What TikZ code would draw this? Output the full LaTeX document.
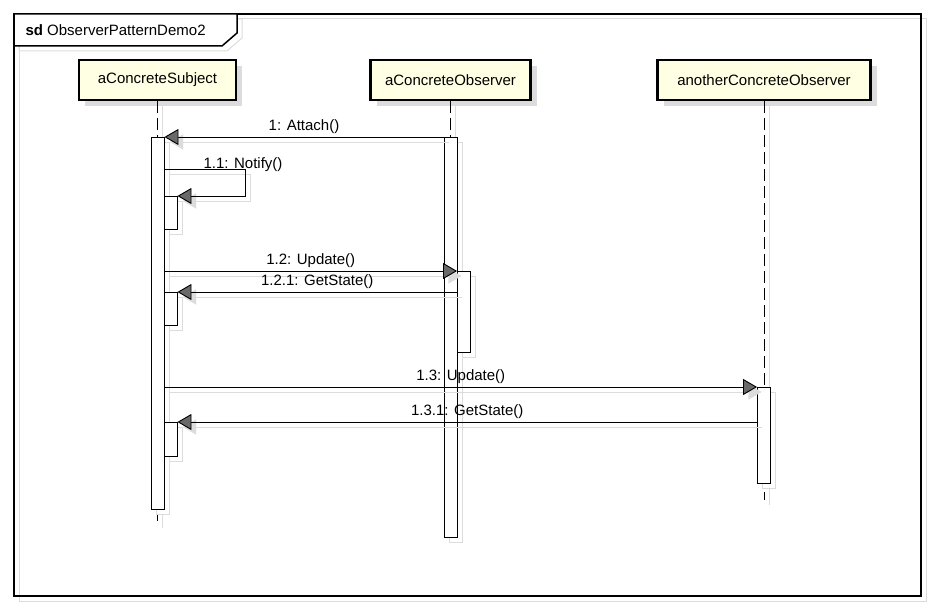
\documentclass[tikz,border=0pt]{standalone}
\usepackage{fontspec}
\setmainfont{Liberation Sans}
\usetikzlibrary{arrows.meta, shadows, positioning}
\definecolor{headfill}{RGB}{255,255,227}
\definecolor{ghostgray}{RGB}{220,220,220}
\definecolor{tipgray}{RGB}{105,105,105}

\begin{document}
\begin{tikzpicture}[x=1pt, y=-1pt, font=\fontsize{15}{18}\selectfont,
    ghost/.style={preaction={draw=ghostgray, line width=1pt, solid, transform canvas={shift={(5,5)}}}},
    frame/.style={draw, line width=1.5pt, ghost},
    lifehead/.style={draw, line width=2.6pt, fill=headfill, minimum height=40, inner sep=0pt,
        drop shadow={shadow xshift=6pt, shadow yshift=-6pt, fill=ghostgray, opacity=1}},
    lifeline/.style={draw, line width=0.9pt, dash pattern=on 12pt off 5pt, ghost},
    actbar/.style={draw, line width=0.9pt, fill=white, minimum width=13, inner sep=0pt, anchor=north,
        drop shadow={shadow xshift=5pt, shadow yshift=-5pt, draw=ghostgray, fill=white, opacity=1}},
    msg/.style={draw, line width=0.9pt, -{Triangle[length=14pt, width=16pt, fill=tipgray]},
        preaction={draw=ghostgray, transform canvas={shift={(5,5)}},
            -{Triangle[length=14pt, width=16pt, fill=ghostgray]}}},
    msglabel/.style={above, inner sep=2.5pt}
]
    \useasboundingbox (0,0) rectangle (933,609);

    % frame and its tab
    \draw[frame] (14,14) rectangle (921,596);
    \draw[frame, fill=white] (14,14) -- (237,14) -- (237,33) -- (222,46) -- (14,46) -- cycle;
    \node[anchor=west] (title) at (22,30) {\textbf{sd} ObserverPatternDemo2};

    % lifeline heads
    \node[lifehead, minimum width=157] (subject) at (157.5,80) {aConcreteSubject};
    \node[lifehead, minimum width=160] (observer) at (450.5,80) {aConcreteObserver};
    \node[lifehead, minimum width=213] (another) at (764,80) {anotherConcreteObserver};

    % lifelines
    \coordinate (subend) at (157.5,523);
    \coordinate (obsend) at (450.5,536);
    \coordinate (anotherend) at (764,500);
    \draw[lifeline] (subject.south) -- (subend);
    \draw[lifeline] (observer.south) -- (obsend);
    \draw[lifeline] (another.south) -- (anotherend);

    % activations
    \node[actbar, minimum height=372] (subbar) at (157.5,137) {};
    \node[actbar, minimum height=400] (obsbar) at (450.5,137) {};
    \node[actbar, minimum height=33] (notifybar) at (170.5,196) {};
    \node[actbar, minimum height=81] (updatebar) at (464,271) {};
    \node[actbar, minimum height=33] (getbar) at (170.5,292) {};
    \node[actbar, minimum height=96] (update2bar) at (764,387) {};
    \node[actbar, minimum height=34] (get2bar) at (170.5,422) {};

    % messages
    \coordinate (notifyturn) at (245,169);
    \draw[msg] (obsbar.north west) -- node[msglabel] {1: Attach()} (subbar.north east);
    \draw[msg] (subbar.east |- notifyturn) -- (notifyturn)
        node[xshift=-2pt, yshift=4pt] {1.1: Notify()} |- (notifybar.north east);
    \draw[msg] (subbar.east |- updatebar.north west) -- node[msglabel] {1.2: Update()} (updatebar.north west);
    \draw[msg] (updatebar.west |- getbar.north) -- node[msglabel] {1.2.1: GetState()} (getbar.north east);
    \draw[msg] (subbar.east |- update2bar.north west) -- node[msglabel] {1.3: Update()} (update2bar.north west);
    \draw[msg] (update2bar.west |- get2bar.north) -- node[msglabel] {1.3.1: GetState()} (get2bar.north east);
\end{tikzpicture}
\end{document}
